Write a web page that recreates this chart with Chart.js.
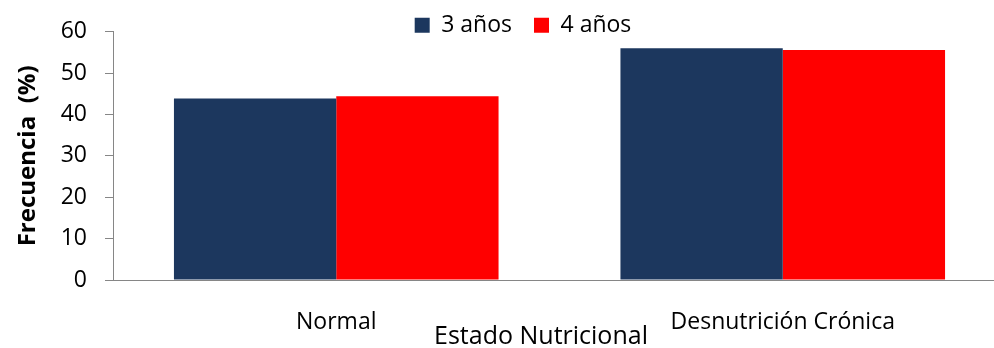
<!DOCTYPE html>
<html><head><meta charset="utf-8">
<script src="https://cdn.jsdelivr.net/npm/chart.js@4/dist/chart.umd.min.js"></script>
<style>html,body{margin:0;padding:0;overflow:hidden;background:#fff;width:994px;height:348px}canvas{display:block}</style>
</head><body>
<canvas id="c" width="1006" height="348"></canvas>
<script>
const categories = ['Normal', 'Desnutrición Crónica'];
const seriesNames = ['3 años', '4 años'];
const values3 = [43.9, 56.0];
const values4 = [44.4, 55.6];
const yMin = 0, yMax = 60, yStep = 10;
const yTitle = 'Frecuencia  (%)';
const xTitle = 'Estado Nutricional';

const FONT = '"Open Sans", "Liberation Sans", sans-serif';
const AXIS = '#868686';

const tweak = {
  id: 'tweak',
  beforeUpdate(chart) {
    const lg = chart.legend;
    if (lg && !lg._patched) {
      const fit = lg.fit;
      lg.fit = function () { fit.call(this); this.height = 30; };
      lg._patched = true;
    }
  },
  afterLayout(chart) {
    const lg = chart.legend;
    if (!lg) return;
    lg.top -= 10;
    lg.bottom = lg.top + 70;
    lg.height = 70;
    lg.left += 20; lg.right += 20;
  },
  afterDraw(chart) {
    const ctx = chart.ctx;
    ctx.save();
    ctx.font = '25px ' + FONT;
    ctx.fillStyle = '#000';
    ctx.textAlign = 'center';
    ctx.textBaseline = 'middle';
    ctx.fillText(xTitle, 541, 337);
    ctx.restore();
  }
};

new Chart(document.getElementById('c'), {
  type: 'bar',
  data: {
    labels: categories,
    datasets: [
      { label: seriesNames[0], data: values3, backgroundColor: '#1C375E', borderWidth: 0 },
      { label: seriesNames[1], data: values4, backgroundColor: '#FF0000', borderWidth: 0 }
    ]
  },
  options: {
    responsive: false,
    animation: false,
    layout: { padding: 0 },
    datasets: { bar: { categoryPercentage: 0.727, barPercentage: 1 } },
    plugins: {
      tooltip: { enabled: false },
      legend: {
        position: 'top',
        labels: { boxWidth: 15, boxHeight: 15, padding: 22, color: '#000', font: { family: FONT, size: 23 } }
      }
    },
    scales: {
      x: {
        afterFit(s) { s.height = 68; },
        grid: { display: true, drawOnChartArea: false, drawTicks: false },
        border: { display: true, color: AXIS, width: 1 },
        ticks: { padding: 29, color: '#000', font: { family: FONT, size: 23 }, maxRotation: 0 }
      },
      y: {
        min: yMin, max: yMax,
        afterFit(s) { s.width = 113; },
        grid: { display: true, drawOnChartArea: false, drawTicks: true, tickLength: 8, color: AXIS },
        border: { display: true, color: AXIS, width: 1 },
        ticks: { stepSize: yStep, padding: 18, color: '#000', font: { family: FONT, size: 23 } },
        title: { display: true, text: yTitle, color: '#000', padding: { top: 14, bottom: 0 }, font: { family: FONT, size: 24, weight: 'bold' } }
      }
    }
  },
  plugins: [tweak]
});
</script>
</body></html>
